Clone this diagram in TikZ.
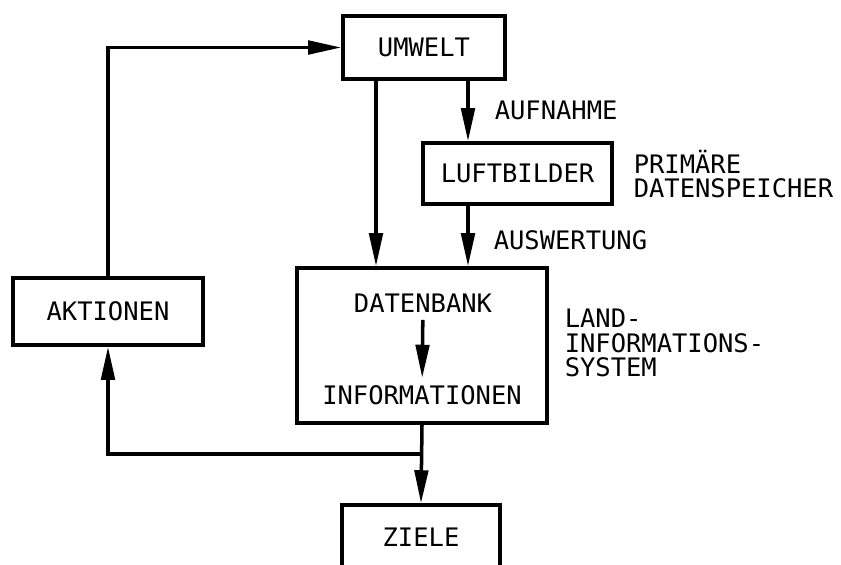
\documentclass[tikz,border=0pt]{standalone}
\usepackage{fontspec}
\setmainfont{DejaVu Sans Mono}
\usetikzlibrary{arrows.meta,positioning}

\begin{document}
\begin{tikzpicture}[
  font=\fontsize{14.5pt}{14pt}\selectfont,
  line width=2pt,
  >={Triangle[length=6.6mm,width=2.7mm]},
  box/.style={draw, rectangle},
  lbl/.style={anchor=west, align=left, inner sep=0pt}
]
\useasboundingbox (0,0) rectangle (16.82,-11.28);
\clip (0,0) rectangle (16.82,-11.28);

% boxes
\node[box, minimum width=3.24cm, minimum height=1.26cm] (umwelt) at (8.48,-0.95) {UMWELT};
\node[box, minimum width=3.78cm, minimum height=1.22cm] (luft) at (10.35,-3.47) {LUFTBILDER};
\node[box, minimum width=5cm, minimum height=3.1cm] (lis) at (8.44,-6.91) {};
\node (db) at (8.46,-6.06) {DATENBANK};
\node (info) at (8.44,-7.9) {INFORMATIONEN};
\node[box, minimum width=3.8cm, minimum height=1.34cm] (akt) at (2.16,-6.23) {AKTIONEN};
\node[box, minimum width=3.16cm, minimum height=1.28cm] (ziele) at (8.42,-10.74) {ZIELE};

% labels
\node[lbl] (aufn) at (9.86,-2.2) {AUFNAHME};
\node[lbl] (ausw) at (9.84,-4.8) {AUSWERTUNG};
\node[lbl] (prim) at (12.64,-3.48) {PRIMÄRE\\DATENSPEICHER};
\node[lbl] (land) at (11.26,-6.86) {LAND-\\INFORMATIONS-\\SYSTEM};

% arrows
\coordinate (c1) at (7.52,0);
\coordinate (c2) at (9.36,0);
\draw[->] (umwelt.south -| c1) -- (lis.north -| c1);
\draw[->] (umwelt.south -| c2) -- (luft.north -| c2);
\draw[->] (luft.south -| c2) -- (lis.north -| c2);
\draw[->] (db) -- (info);
\draw[->] (lis.south) -- (ziele.north);
\coordinate (j) at (8.44,-9.08);
\draw[->] (j) -| (akt.south);
\draw[->] (akt.north) |- (umwelt.west);
\end{tikzpicture}
\end{document}
